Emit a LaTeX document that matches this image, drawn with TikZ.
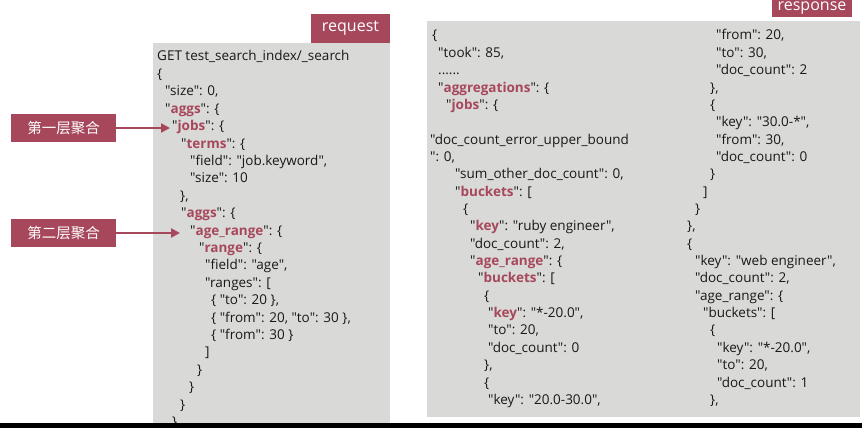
\documentclass[tikz,border=0pt]{standalone}
\usepackage{fontspec}
\setmainfont{Open Sans}[Ligatures=TeXOff]
\newfontfamily\cjkfont{Noto Sans CJK SC}
\usetikzlibrary{arrows.meta}

\definecolor{tagred}{RGB}{167,71,91}
\definecolor{panelgray}{RGB}{217,217,215}
\definecolor{codetext}{RGB}{25,25,25}
\newcommand{\kw}[1]{{\color{tagred}\bfseries #1}}

\begin{document}
\begin{tikzpicture}[x=1pt,y=-1pt,
    code/.style={anchor=base west, inner sep=0pt, text=codetext, font=\fontsize{13.5}{16}\selectfont},
    panel/.style={fill=panelgray, inner sep=0pt},
    tag/.style={fill=tagred, text=white, inner sep=0pt, font=\fontsize{16}{18}\selectfont},
    level/.style={fill=tagred, text=white, inner sep=0pt, minimum width=105pt, minimum height=28pt, font=\cjkfont\fontsize{14.5}{16}\selectfont},
    pointer/.style={draw=tagred, line width=2pt, -{Triangle[length=9pt,width=9pt]}}]
    \useasboundingbox (0,0) rectangle (862,428);
    \fill[white] (0,0) rectangle (862,428);

    % panels and tags
    \node[panel, minimum width=237pt, minimum height=380pt] (reqpanel) at (271.5,233) {};
    \node[tag, minimum width=79pt, minimum height=29pt] (reqtag) at (350.5,28.5) {request};
    \node[panel, minimum width=433pt, minimum height=396pt] (respanel) at (643.5,219) {};
    \node[tag, minimum width=80pt, minimum height=17pt] (restag) at (812,8.5) {response};

    % request body
    \node[code] (q0) at (157,61) {GET test\_search\_index/\_search};
    \node[code] (q1) at (157,78.4) {\{};
    \node[code] (q2) at (165,95.8) {"size": 0,};
    \node[code] (q3) at (165,113.2) {"\kw{aggs}": \{};
    \node[code] (q4) at (172,130.6) {"\kw{jobs}": \{};
    \node[code] (q5) at (181,148) {"\kw{terms}": \{};
    \node[code] (q6) at (190,165.4) {"field": "job.keyword",};
    \node[code] (q7) at (190,182.8) {"size": 10};
    \node[code] (q8) at (180,200.2) {\},};
    \node[code] (q9) at (181,217.6) {"\kw{aggs}": \{};
    \node[code] (q10) at (190,235) {"\kw{age\_range}": \{};
    \node[code] (q11) at (199,252.4) {"\kw{range}": \{};
    \node[code] (q12) at (205,269.8) {"field": "age",};
    \node[code] (q13) at (205,287.2) {"ranges": [};
    \node[code] (q14) at (211,304.6) {\{ "to": 20 \},};
    \node[code] (q15) at (211,322) {\{ "from": 20, "to": 30 \},};
    \node[code] (q16) at (211,339.4) {\{ "from": 30 \}};
    \node[code] (q17) at (205,356.8) {]};
    \node[code] (q18) at (197,374.2) {\}};
    \node[code] (q19) at (189,391.6) {\}};
    \node[code] (q20) at (180,409) {\}};
    \node[code] (q21) at (172,426.4) {\}};

    % response body, first column
    \node[code] (a0) at (432,40) {\{};
    \node[code] (a1) at (438,57.35) {"took": 85,};
    \node[code] (a2) at (438,74.7) {......};
    \node[code] (a3) at (438,92.05) {"\kw{aggregations}": \{};
    \node[code] (a4) at (446,109.4) {"\kw{jobs}": \{};
    \node[code] (a6) at (430,144.1) {"doc\_count\_error\_upper\_bound};
    \node[code] (a7) at (430,161.45) {": 0,};
    \node[code] (a8) at (455,178.8) {"sum\_other\_doc\_count": 0,};
    \node[code] (a9) at (455,196.15) {"\kw{buckets}": [};
    \node[code] (a10) at (463,213.5) {\{};
    \node[code] (a11) at (470,230.85) {"\kw{key}": "ruby engineer",};
    \node[code] (a12) at (470,248.2) {"doc\_count": 2,};
    \node[code] (a13) at (470,265.55) {"\kw{age\_range}": \{};
    \node[code] (a14) at (478,282.9) {"\kw{buckets}": [};
    \node[code] (a15) at (484,300.25) {\{};
    \node[code] (a16) at (488,317.6) {"\kw{key}": "*-20.0",};
    \node[code] (a17) at (488,334.95) {"to": 20,};
    \node[code] (a18) at (488,352.3) {"doc\_count": 0};
    \node[code] (a19) at (484,369.65) {\},};
    \node[code] (a20) at (484,387) {\{};
    \node[code] (a21) at (488,404.35) {"key": "20.0-30.0",};

    % response body, second column
    \node[code] (b0) at (716,40) {"from": 20,};
    \node[code] (b1) at (716,57.35) {"to": 30,};
    \node[code] (b2) at (716,74.7) {"doc\_count": 2};
    \node[code] (b3) at (710,92.05) {\},};
    \node[code] (b4) at (710,109.4) {\{};
    \node[code] (b5) at (716,126.75) {"key": "30.0-*",};
    \node[code] (b6) at (716,144.1) {"from": 30,};
    \node[code] (b7) at (716,161.45) {"doc\_count": 0};
    \node[code] (b8) at (710,178.8) {\}};
    \node[code] (b9) at (703,196.15) {]};
    \node[code] (b10) at (695,213.5) {\}};
    \node[code] (b11) at (687,230.85) {\},};
    \node[code] (b12) at (687,248.2) {\{};
    \node[code] (b13) at (695,265.55) {"key": "web engineer",};
    \node[code] (b14) at (695,282.9) {"doc\_count": 2,};
    \node[code] (b15) at (695,300.25) {"age\_range": \{};
    \node[code] (b16) at (703,317.6) {"buckets": [};
    \node[code] (b17) at (710,334.95) {\{};
    \node[code] (b18) at (717,352.3) {"key": "*-20.0",};
    \node[code] (b19) at (717,369.65) {"to": 20,};
    \node[code] (b20) at (717,387) {"doc\_count": 1};
    \node[code] (b21) at (710,404.35) {\},};

    % aggregation levels
    \node[level] (lvl1) at (63.5,128) {第一层聚合};
    \node[level] (lvl2) at (63.5,233) {第二层聚合};
    \coordinate (jobsin) at (170,128);
    \coordinate (rangein) at (180,233);
    \draw[pointer] (lvl1.east) -- (jobsin);
    \draw[pointer] (lvl2.east) -- (rangein);

    \fill[black] (0,423) rectangle (862,428);
\end{tikzpicture}
\end{document}
